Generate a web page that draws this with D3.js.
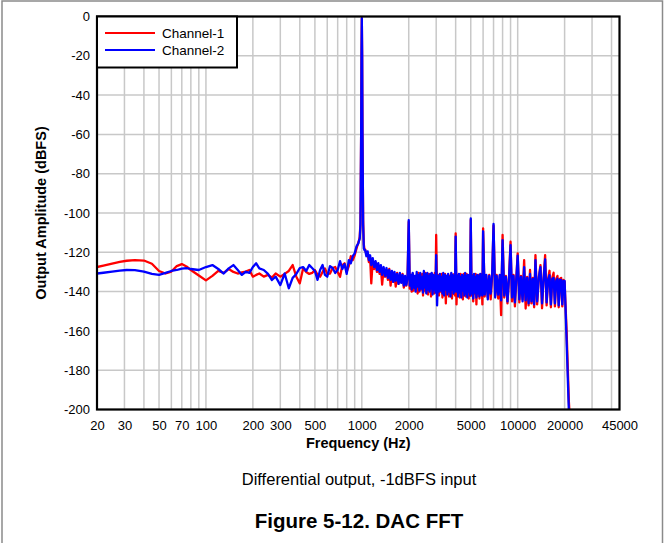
<!DOCTYPE html>
<html><head><meta charset="utf-8">
<script src="https://cdn.jsdelivr.net/npm/d3@7"></script>
<style>
html,body{margin:0;padding:0;background:#fff;}
text{font-family:"Liberation Sans",Arial,sans-serif;}
</style></head>
<body><svg id="c" width="665" height="543"></svg>
<script>
// ---- data ----
const seriesNames = ["Channel-1", "Channel-2"];
const xTickLabels = [20,30,50,70,100,200,300,500,1000,2000,5000,10000,20000,45000];
const xGridValues = [30,40,50,60,70,80,90,100,200,300,400,500,600,700,800,900,1000,2000,3000,4000,5000,6000,7000,8000,9000,10000,20000,30000,40000];
const yTickLabels = [0,-20,-40,-60,-80,-100,-120,-140,-160,-180,-200];

const freqLow = [20,22,25,28,31,35,40,45,50,55,60,65,70,75,80,90,100,110,120,130,140,150,160,170,180,190,200,210,220,235,250,265,280,300,320,340,360,380,400,420,440,460,480,500,520,540,560,580,600,625,650,675,700,725,750,775,800,825,850,875,900,925,950];
const ch1Low = [-127.5,-126.8,-125.8,-124.9,-124.3,-124.0,-124.2,-125.8,-129.5,-130.8,-129.8,-127.0,-126.0,-127.2,-129.0,-131.8,-134.3,-132.0,-129.5,-130.5,-128.5,-130.0,-130.8,-130.2,-129.8,-129.0,-132.4,-131.5,-130.8,-132.4,-131.5,-132.8,-130.8,-132.4,-131.0,-129.5,-126.5,-132.4,-135.8,-128.2,-130.0,-131.0,-130.5,-129.0,-131.5,-132.4,-130.0,-128.2,-131.0,-130.8,-128.0,-127.5,-130.0,-132.5,-126.5,-125.6,-130.0,-127.0,-122.0,-124.0,-121.5,-118.0,-115.0];
const ch2Low = [-130.8,-130.4,-129.8,-129.3,-129.0,-129.1,-129.8,-131.0,-131.5,-130.5,-129.5,-129.0,-128.3,-128.0,-128.5,-129.0,-127.5,-126.5,-128.5,-130.8,-128.2,-126.5,-129.0,-131.5,-129.9,-130.5,-127.5,-125.6,-128.2,-129.0,-131.0,-134.1,-132.4,-136.7,-130.8,-138.3,-133.0,-131.0,-128.0,-127.5,-129.5,-126.5,-128.0,-129.5,-134.0,-129.0,-126.5,-131.5,-132.4,-127.0,-128.0,-130.5,-129.0,-124.5,-128.5,-126.0,-131.0,-124.0,-125.6,-122.0,-120.5,-117.0,-115.5];

const freqPeak = [960,970,980,990,995,1000,1005,1010,1020,1030,1040];
const ch1Peak = [-114,-112,-105,-60,-20,-1,-20,-60,-104,-116,-118.5];
const ch2Peak = [-114,-113,-106,-60,-20,-0.9,-20,-60,-106,-118,-118.8];

const freqSkirt = [1050,1070,1090,1110,1130,1150,1175,1200,1225,1250,1275,1300,1325,1350,1380,1410,1440,1470,1500,1530,1560,1590,1620,1650,1685,1720,1755,1790,1825,1860,1895,1930,1965];
const ch1Skirt = [-118.5,-121,-120.5,-125,-122.5,-135.8,-124,-128.5,-125,-130,-126.5,-131,-127,-136.5,-128.5,-132.5,-129,-134,-128.5,-137,-130,-135,-131,-137.5,-130.5,-136,-132,-135,-131,-138,-133,-137,-132.5];
const ch2Skirt = [-118.8,-122,-119.5,-124,-121.5,-126.5,-123,-127.5,-124.5,-129,-125.5,-130,-126.5,-131.5,-127.5,-132,-128,-133,-129,-134,-129.5,-135,-130,-134.5,-131,-136,-130.5,-135.5,-131.5,-137,-132,-136.5,-133];

// noise floor with harmonics, 2 kHz - 6 kHz
const freqNoiseA = [2000,2030,2060,2090,2120,2150,2180,2215,2250,2280,2310,2340,2370,2405,2440,2470,2500,2530,2560,2595,2630,2660,2690,2720,2750,2780,2810,2845,2880,2910,2940,2970,3000,
  3040,3080,3125,3170,3210,3250,3290,3330,3375,3420,3460,3500,3540,3580,3625,3670,3710,3750,3790,3830,3875,3920,3960,4000,
  4050,4100,4150,4200,4250,4300,4350,4400,4450,4500,4550,4600,4650,4700,4750,4800,4850,4900,4950,5000,
  5060,5120,5185,5250,5310,5370,5435,5500,5560,5620,5685,5750,5810,5870,5935,6000];
const ch1NoiseA = [-104.5,-138.5,-132.5,-140,-131,-139.5,-133,-138,-131.5,-141,-130.5,-140,-132,-139,-131,-142,-132.5,-139.5,-130.5,-140.5,-132,-141.5,-131,-139,-132.5,-142.5,-131,-140,-132,-141,-130.5,-139.5,-111.2,
  -141,-131.5,-142,-132.5,-140,-131,-143,-132,-140.5,-131,-146,-132.5,-141,-131.5,-142.5,-132,-140,-131,-143.5,-132.5,-141,-131,-142,-110.4,
  -146.5,-131.5,-141,-132.5,-143,-131,-141.5,-132,-144,-131,-140.5,-132.5,-142.5,-131,-141,-132,-143.5,-131.5,-142,-103.5,
  -142,-131.5,-145,-132.5,-141,-131,-146.5,-132,-142,-131.5,-143.5,-132.5,-141,-131,-146.5,-107.8];
const ch2NoiseA = [-103.6,-137,-131.5,-139,-130.5,-138,-132,-140,-130,-137.5,-131.5,-139.5,-130.5,-138.5,-132.5,-140.5,-129.5,-138,-131,-141,-130.5,-139,-132,-140,-131,-138.5,-130.5,-141.5,-131.5,-139,-132,-140.5,-121.4,
  -147,-132,-140,-131,-139.5,-132.5,-141,-130.5,-142,-131.5,-139,-132,-141.5,-131,-140,-132.5,-142.5,-130.5,-139,-131.5,-141,-132,-140,-112,
  -140,-132,-142.5,-131,-140.5,-132.5,-143,-131.5,-139.5,-132,-142,-130.5,-141,-132,-143,-131.5,-140,-132.5,-142,-102.7,
  -141,-132,-143.5,-131,-140.5,-132.5,-143,-131.5,-141,-132,-142.5,-131,-141.5,-132.5,-142,-109.3];

// noise floor with harmonics, 6 kHz - 20 kHz
const freqNoiseB = [6140,6290,6430,6570,6710,6860,7000,7170,7330,7500,7670,7830,8000,8200,8400,8600,8800,9000,9200,9400,9600,9800,10000,10250,10500,10750,11000,11250,11500,11750,12000,12250,12500,12750,13000,13330,13670,14000,14330,14670,15000,15330,15670,16000,16330,16670,17000,17330,17670,18000,18330,18670,19000,19330,19670,20000,20250];
const ch1NoiseB = [-142.5,-132,-143,-131.5,-144,-132,-106.5,-142,-131.5,-143.5,-132,-152,-111.2,-143,-132,-146,-132.5,-114.6,-145,-131.5,-147.5,-133,-120.5,-145.5,-132,-144,-124,-148.6,-132.5,-147,-129,-146,-133,-148,-121.4,-146.5,-132.5,-126.5,-148.5,-133,-121.4,-147,-133.5,-129.4,-148,-133,-130.4,-147.5,-133.5,-132,-148,-133.5,-133,-147.5,-134,-135,-146];
const ch2NoiseB = [-141.5,-131.5,-144,-132,-141,-131,-105.6,-143,-132,-141.5,-131.5,-144.5,-113.8,-142,-132.5,-145,-133,-116.3,-143,-132,-145.5,-133.5,-121.7,-144,-132.5,-145,-127.5,-144.5,-133,-146,-131,-145,-133.5,-146.5,-124,-145,-133,-127.5,-146,-133.5,-123.6,-145.5,-134,-131.6,-146.5,-133.5,-133,-146,-134.5,-133.5,-147,-134,-134,-146.5,-134.5,-134.5,-147];

const freqDrop = [20600,21300,22000];
const ch1Drop = [-160,-196,-215];
const ch2Drop = [-165,-201,-215];

// ---- assemble ----
const freq = [...freqLow, ...freqPeak, ...freqSkirt, ...freqNoiseA, ...freqNoiseB, ...freqDrop];
const ch1 = [...ch1Low, ...ch1Peak, ...ch1Skirt, ...ch1NoiseA, ...ch1NoiseB, ...ch1Drop];
const ch2 = [...ch2Low, ...ch2Peak, ...ch2Skirt, ...ch2NoiseA, ...ch2NoiseB, ...ch2Drop];
const colors = ["#ff0000", "#0000ff"];

// ---- layout ----
const svg = d3.select("#c");
const L = 97, R = 619.5, T = 16.5, B = 409.5;
const x = d3.scaleLog().domain([20, 45000]).range([L, R]);
const y = d3.scaleLinear().domain([-200, 0]).range([B, T]);
const fmt = d => String(d);

// outer frame
svg.append("rect").attr("x", 2).attr("y", 1).attr("width", 660.5).attr("height", 560)
  .attr("fill", "none").attr("stroke", "#8a8a8a").attr("stroke-width", 1.5);

// grid
const g = svg.append("g");
g.selectAll("line.vg").data(xGridValues).join("line")
  .attr("x1", d => x(d)).attr("x2", d => x(d)).attr("y1", T).attr("y2", B)
  .attr("stroke", "#c8c8c8").attr("stroke-width", 1.5);
g.selectAll("line.hg").data(yTickLabels).join("line")
  .attr("x1", L).attr("x2", R).attr("y1", d => y(d)).attr("y2", d => y(d))
  .attr("stroke", "#c8c8c8").attr("stroke-width", 1.5);

// clip
svg.append("clipPath").attr("id", "clip").append("rect")
  .attr("x", L).attr("y", T).attr("width", R - L).attr("height", B - T);

const line = d3.line().defined(d => Number.isFinite(d[1])).x(d => x(d[0])).y(d => y(d[1]));
[ch1, ch2].forEach((vals, i) => {
  svg.append("path").attr("clip-path", "url(#clip)")
    .datum(freq.map((f, k) => [f, vals[k]]))
    .attr("d", line).attr("fill", "none").attr("stroke", colors[i])
    .attr("stroke-width", 2.3).attr("stroke-linejoin", "round");
});

// plot border
svg.append("rect").attr("x", L).attr("y", T).attr("width", R - L).attr("height", B - T)
  .attr("fill", "none").attr("stroke", "#000").attr("stroke-width", 2.2);

// axes
const xa = svg.append("g").attr("transform", `translate(0,${B})`)
  .call(d3.axisBottom(x).tickValues(xTickLabels).tickFormat(fmt).tickSize(0).tickPadding(11));
xa.select(".domain").remove();
xa.selectAll("text").attr("font-size", 13).attr("fill", "#000").style("font-family", "Liberation Sans, Arial, sans-serif");

const ya = svg.append("g").attr("transform", `translate(${L},0)`)
  .call(d3.axisLeft(y).tickValues(yTickLabels).tickFormat(fmt).tickSize(0).tickPadding(7));
ya.select(".domain").remove();
ya.selectAll("text").attr("font-size", 13).attr("fill", "#000").style("font-family", "Liberation Sans, Arial, sans-serif");

// axis titles
svg.append("text").attr("x", (L + R) / 2).attr("y", 448).attr("text-anchor", "middle")
  .attr("font-size", 14.5).attr("font-weight", "bold").text("Frequency (Hz)");
svg.append("text").attr("transform", `translate(46,${(T + B) / 2}) rotate(-90)`).attr("text-anchor", "middle")
  .attr("font-size", 14.5).attr("font-weight", "bold").text("Output Amplitude (dBFS)");

svg.append("text").attr("x", 359).attr("y", 485).attr("text-anchor", "middle")
  .attr("font-size", 16.5).text("Differential output, -1dBFS input");
svg.append("text").attr("x", 359).attr("y", 528).attr("text-anchor", "middle")
  .attr("font-size", 20.5).attr("font-weight", "bold").text("Figure 5-12. DAC FFT");

// legend
const lg = svg.append("g");
lg.append("rect").attr("x", L).attr("y", T).attr("width", 140).attr("height", 51)
  .attr("fill", "#fff").attr("stroke", "#000").attr("stroke-width", 2);
seriesNames.forEach((n, i) => {
  lg.append("line").attr("x1", 105).attr("x2", 155).attr("y1", 33 + i * 17).attr("y2", 33 + i * 17)
    .attr("stroke", colors[i]).attr("stroke-width", 2);
  lg.append("text").attr("x", 162).attr("y", 38 + i * 17).attr("font-size", 13.5).text(n);
});
</script></body></html>
